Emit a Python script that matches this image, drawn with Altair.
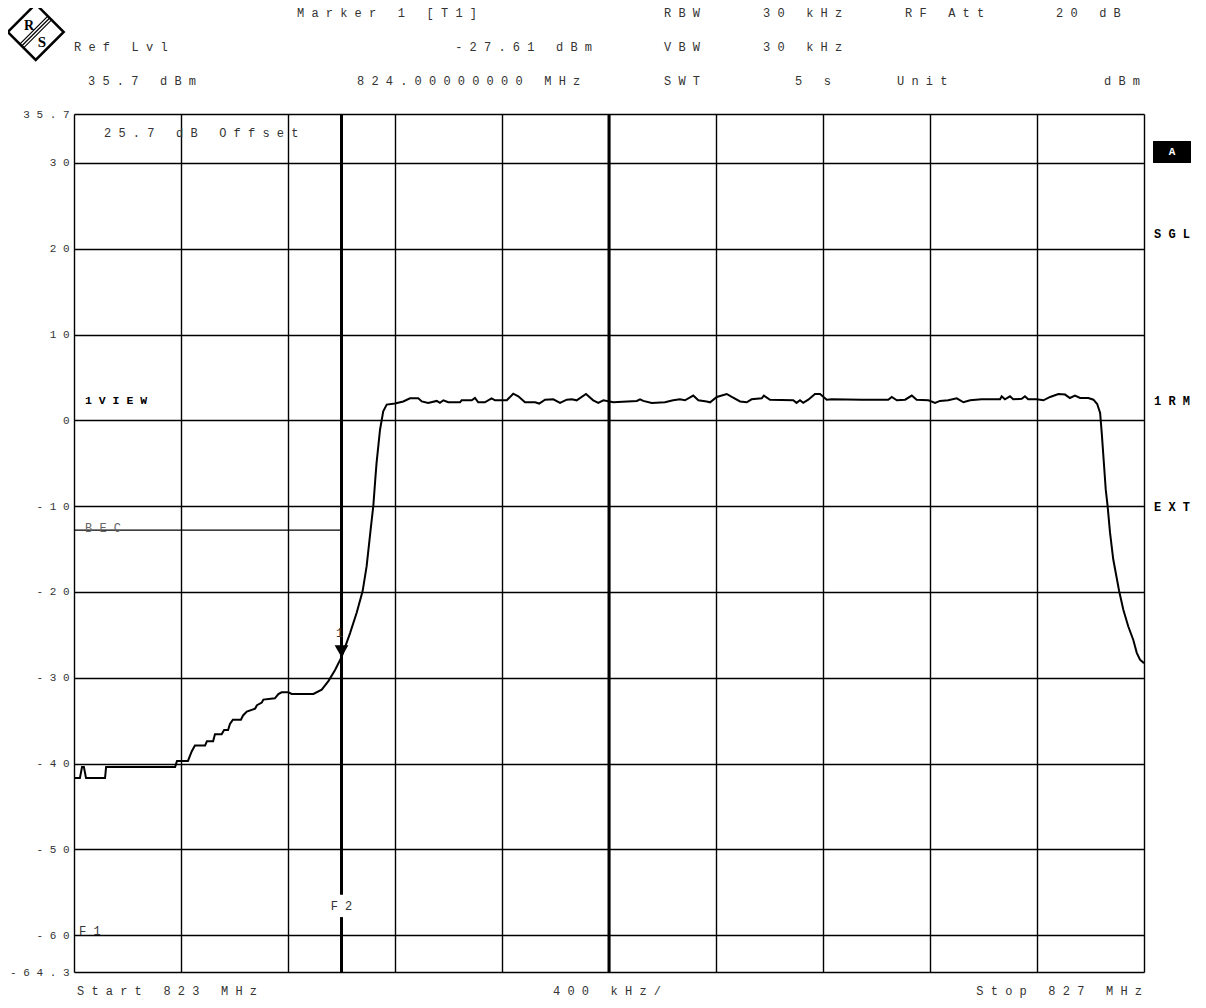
import altair as alt
import pandas as pd

# ---------------- data ----------------
freq_mhz = [
    823.000, 823.022, 823.030, 823.037, 823.045, 823.116, 823.120, 823.378, 823.385, 823.426,
    823.440, 823.452, 823.490, 823.497, 823.520, 823.527, 823.552, 823.561, 823.576, 823.583,
    823.594, 823.624, 823.632, 823.646, 823.677, 823.684, 823.702, 823.708, 823.751, 823.764,
    823.776, 823.801, 823.814, 823.895, 823.926, 823.951, 823.976, 824.000, 824.032, 824.057,
    824.079, 824.094, 824.109, 824.119, 824.126, 824.131, 824.144, 824.156, 824.169, 824.200,
    824.231, 824.256, 824.287, 824.300, 824.324, 824.356, 824.368, 824.381, 824.399, 824.443,
    824.449, 824.487, 824.499, 824.511, 824.536, 824.561, 824.574, 824.618, 824.642, 824.661,
    824.686, 824.724, 824.739, 824.761, 824.792, 824.817, 824.842, 824.861, 824.879, 824.914,
    824.941, 824.960, 824.979, 825.016, 825.104, 825.116, 825.128, 825.160, 825.209, 825.240,
    825.265, 825.284, 825.315, 825.334, 825.365, 825.378, 825.403, 825.440, 825.459, 825.490,
    825.515, 825.533, 825.571, 825.579, 825.602, 825.689, 825.701, 825.714, 825.726, 825.745,
    825.770, 825.789, 825.814, 825.833, 825.945, 826.044, 826.057, 826.076, 826.107, 826.132,
    826.150, 826.194, 826.219, 826.237, 826.268, 826.300, 826.325, 826.350, 826.393, 826.462,
    826.468, 826.480, 826.499, 826.511, 826.543, 826.555, 826.567, 826.599, 826.624, 826.649,
    826.680, 826.705, 826.723, 826.742, 826.761, 826.792, 826.811, 826.825, 826.836, 826.842,
    826.850, 826.857, 826.864, 826.873, 826.885, 826.907, 826.923, 826.941, 826.960, 826.973,
    826.985, 827.000,
]
level_dbm = [
    -41.7, -41.7, -40.4, -40.4, -41.7, -41.7, -40.4, -40.4, -39.7, -39.7,
    -38.6, -37.9, -37.9, -37.4, -37.4, -36.6, -36.6, -36.1, -36.1, -35.4,
    -34.9, -34.9, -34.4, -33.95, -33.6, -33.2, -32.9, -32.55, -32.4, -31.9,
    -31.7, -31.7, -31.9, -31.9, -31.4, -30.4, -29.1, -27.61, -24.8, -22.4,
    -19.9, -17.0, -12.7, -9.95, -7.0, -5.0, -1.1, 1.05, 1.83, 1.95,
    2.2, 2.56, 2.56, 2.2, 2.03, 2.26, 2.03, 2.33, 2.1, 2.1,
    2.33, 2.33, 2.6, 2.1, 2.1, 2.56, 2.33, 2.33, 3.1, 2.8,
    2.1, 2.1, 1.95, 2.4, 2.45, 2.03, 2.4, 2.45, 2.33, 3.07,
    2.33, 2.03, 2.33, 2.1, 2.26, 2.45, 2.26, 2.03, 2.1, 2.33,
    2.45, 2.33, 2.88, 2.33, 2.2, 2.1, 2.72, 3.07, 2.72, 2.2,
    2.1, 2.45, 2.56, 2.88, 2.4, 2.33, 2.03, 2.33, 2.03, 2.4,
    3.07, 3.07, 2.4, 2.45, 2.4, 2.4, 2.72, 2.33, 2.4, 2.88,
    2.4, 2.33, 2.03, 2.26, 2.33, 2.56, 2.1, 2.33, 2.45, 2.45,
    2.8, 2.45, 2.8, 2.45, 2.5, 2.8, 2.45, 2.45, 2.33, 2.72,
    3.07, 3.0, 2.6, 2.88, 2.6, 2.6, 2.4, 1.9, 0.86, -1.47,
    -4.97, -8.08, -10.0, -13.1, -16.2, -19.9, -22.1, -24.0, -25.6, -27.1,
    -27.9, -28.3,
]

y_ticks = [35.7, 30, 20, 10, 0, -10, -20, -30, -40, -50, -60, -64.3]
x_grid = [823.0, 823.4, 823.8, 824.2, 824.6, 825.0, 825.4, 825.8, 826.2, 826.6, 827.0]
x_domain = [823.0, 827.0]
y_domain = [-64.3, 35.7]

center_freq = 825.0
f1_freq = 823.0
f2_freq = 824.0
bec_level = -12.8
marker_freq = 824.0
marker_level = -27.61
f2_gap = [-55.3, -57.9]

header_row1 = ["Marker 1 [T1]", "RBW", "30 kHz", "RF Att", "20 dB"]
header_row2 = ["Ref Lvl", "-27.61 dBm", "VBW", "30 kHz"]
header_row3 = ["35.7 dBm", "824.00000000 MHz", "SWT", "5 s", "Unit", "dBm"]
footer = ["Start 823 MHz", "400 kHz/", "Stop 827 MHz"]
side_labels = ["A", "SGL", "1RM", "EXT"]
offset_text = "25.7 dB Offset"

# ---------------- helpers ----------------
FONT = "Liberation Mono"
TXT = "#333333"
W, H = 1070, 858
NB = "\u00a0"


def sp(s):
    return NB.join([c if c != " " else NB for c in s])


one = pd.DataFrame({"k": [0]})

xs = alt.Scale(domain=x_domain, nice=False, zero=False)
ys = alt.Scale(domain=y_domain, nice=False, zero=False)


def label(txt, x, y, align="left", size=12, bold=False, color=TXT, font=FONT):
    return alt.Chart(one).mark_text(
        text=sp(txt), align=align, baseline="middle", font=font, fontSize=size,
        fontWeight="bold" if bold else "normal", color=color,
    ).encode(x=alt.value(x), y=alt.value(y))


trace_df = pd.DataFrame({"f": freq_mhz, "lvl": level_dbm})

base = alt.Chart(trace_df).mark_line(color="black", strokeWidth=2).encode(
    x=alt.X("f:Q", scale=xs, axis=alt.Axis(values=x_grid, labels=False, ticks=False, domain=False,
                                             grid=True, gridColor="black", gridWidth=1.4, title=None)),
    y=alt.Y("lvl:Q", scale=ys, axis=alt.Axis(values=y_ticks, ticks=False, domain=False, grid=True,
                                               gridColor="black", gridWidth=1.4, title=None,
                                               labelExpr="join(split(toString(datum.value), ''), ' ')",
                                               labelFont=FONT, labelFontSize=11, labelColor=TXT,
                                               labelPadding=5, labelBaseline="middle")),
)

center_rule = alt.Chart(one).mark_rule(color="black", strokeWidth=3).encode(
    x=alt.datum(center_freq, scale=xs))

f2_df = pd.DataFrame({"f": [f2_freq, f2_freq], "y1": [y_domain[1], f2_gap[1]], "y2": [f2_gap[0], y_domain[0]]})
f2_rule = alt.Chart(f2_df).mark_rule(color="black", strokeWidth=3).encode(
    x=alt.X("f:Q", scale=xs), y=alt.Y("y1:Q", scale=ys), y2="y2:Q")

bec_rule = alt.Chart(one).mark_rule(color="black", strokeWidth=1.4).encode(
    x=alt.datum(f1_freq, scale=xs), x2=alt.datum(f2_freq), y=alt.datum(bec_level, scale=ys))

mk_df = pd.DataFrame({"f": [marker_freq], "lvl": [marker_level]})
marker = alt.Chart(mk_df).mark_point(shape="triangle-down", filled=True, size=190, color="black",
                                     opacity=1, yOffset=-6).encode(
    x=alt.X("f:Q", scale=xs), y=alt.Y("lvl:Q", scale=ys))
marker_lbl = alt.Chart(mk_df).mark_text(text="1", dx=-2, dy=-24, font=FONT, fontSize=12, color=TXT).encode(
    x=alt.X("f:Q", scale=xs), y=alt.Y("lvl:Q", scale=ys))

f2_lbl = alt.Chart(one).mark_text(text=sp("F2"), align="center", baseline="middle", font=FONT,
                                  fontSize=12, color=TXT).encode(
    x=alt.datum(f2_freq, scale=xs), y=alt.datum((f2_gap[0] + f2_gap[1]) / 2, scale=ys))
f1_lbl = alt.Chart(one).mark_text(text=sp("F1"), align="left", baseline="middle", font=FONT,
                                  fontSize=12, color=TXT, dx=5, dy=-4).encode(
    x=alt.datum(f1_freq, scale=xs), y=alt.datum(-60, scale=ys))
bec_lbl = alt.Chart(one).mark_text(text=sp("BEC"), align="left", baseline="middle", font=FONT,
                                   fontSize=12, color="#666666", dx=11, dy=-2).encode(
    x=alt.datum(f1_freq, scale=xs), y=alt.datum(bec_level, scale=ys))

layers = [base, center_rule, f2_rule, bec_rule, marker, marker_lbl, f2_lbl, f1_lbl, bec_lbl]

# header
r1, r2, r3 = -101, -67, -33
layers += [label(header_row1[0], 223, r1), label(header_row1[1], 590, r1), label(header_row1[2], 689, r1),
           label(header_row1[3], 831, r1), label(header_row1[4], 982, r1)]
layers += [label(header_row2[0], 0, r2), label(header_row2[1], 518, r2, align="right"),
           label(header_row2[2], 590, r2), label(header_row2[3], 689, r2)]
layers += [label(header_row3[0], 14, r3), label(header_row3[1], 283, r3), label(header_row3[2], 590, r3),
           label(header_row3[3], 721, r3), label(header_row3[4], 823, r3), label(header_row3[5], 1030, r3)]
# footer
layers += [label(footer[0], 3, 877), label(footer[1], 479, 877), label(footer[2], 1068, 877, align="right")]
# inside
layers += [label(offset_text, 30, 19), label("1VIEW", 11, 287, size=11.5, bold=True, color="black")]
# side box "A"
box = alt.Chart(one).mark_rect(color="black").encode(
    x=alt.value(1079), x2=alt.value(1117), y=alt.value(27), y2=alt.value(49))
layers += [box, label(side_labels[0], 1098, 38, align="center", size=11, bold=True, color="white")]
layers += [label(side_labels[1], 1098, 120, align="center", size=12, bold=True, color="black"),
           label(side_labels[2], 1098, 287, align="center", size=12, bold=True, color="black"),
           label(side_labels[3], 1098, 393, align="center", size=12, bold=True, color="black")]

# logo
logo_d = alt.Chart(one).mark_point(shape="diamond", size=3136, filled=False, color="black",
                                   strokeWidth=2.5, opacity=1).encode(x=alt.value(-38.3), y=alt.value(-82))
layers.append(logo_d)
for d in (-1.9, 0, 1.9):
    layers.append(alt.Chart(one).mark_rule(color="black", strokeWidth=1.2).encode(
        x=alt.value(-24.3 + d), y=alt.value(-96 + d), x2=alt.value(-52.3 + d), y2=alt.value(-68 + d)))
layers.append(alt.Chart(one).mark_text(text="R", font="Liberation Serif", fontSize=14, fontWeight="bold",
                                       color="black").encode(x=alt.value(-45), y=alt.value(-88)))
layers.append(alt.Chart(one).mark_text(text="S", font="Liberation Serif", fontSize=15, fontWeight="bold",
                                       color="black").encode(x=alt.value(-32), y=alt.value(-72)))

chart = alt.layer(*layers).properties(
    width=W, height=H,
    autosize=alt.AutoSizeParams(type="none"),
    padding={"left": 66, "top": 106, "right": 50, "bottom": 28},
).configure_view(stroke="black", strokeWidth=3).configure(background="white")

chart.save("out.html", embed_options={"renderer": "svg", "actions": False})
